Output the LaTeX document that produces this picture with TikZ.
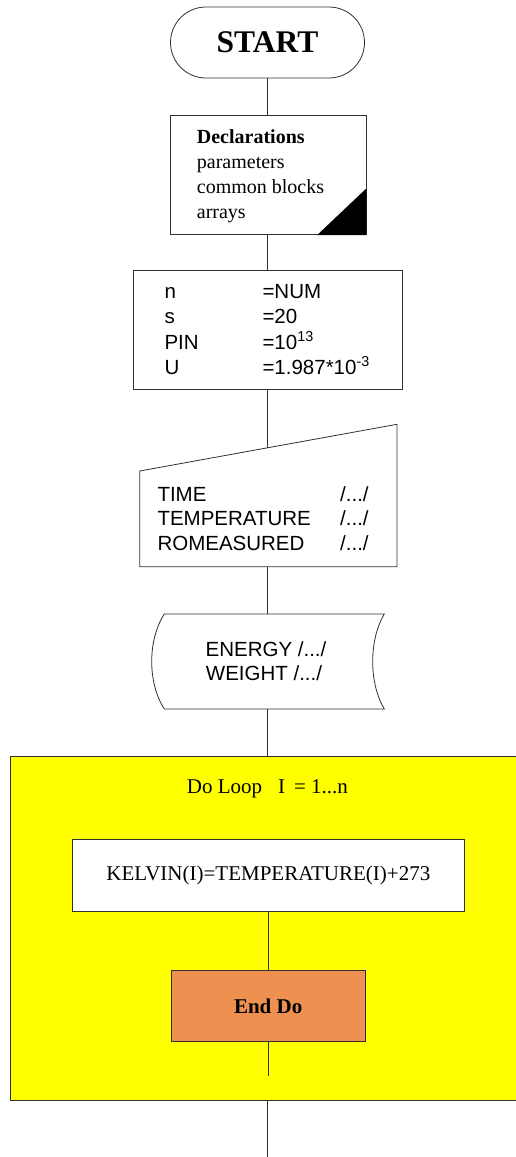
\documentclass[tikz,border=0pt]{standalone}
\usepackage{fontspec}
\setmainfont{Liberation Serif}
\newfontfamily\arialf{Liberation Sans}
\definecolor{loopyellow}{HTML}{FFFF00}
\definecolor{endorange}{HTML}{EE9150}
\definecolor{edgecol}{HTML}{303030}
\tikzset{
  shapeline/.style={draw=edgecol, line width=0.8pt},
  conn/.style={draw=edgecol, line width=0.8pt},
  serif/.style={font=\fontsize{20}{25}\selectfont},
  serifbig/.style={font=\fontsize{21}{25}\selectfont},
  sans/.style={font=\arialf\fontsize{20.5}{25}\selectfont},
  txt/.style={inner sep=0pt, anchor=base west},
  boxnode/.style={shapeline, inner sep=0pt, rectangle},
}
\begin{document}
\begin{tikzpicture}[x=1pt,y=-1pt]
\useasboundingbox (0,0) rectangle (515,1157);

% START terminal
\node[boxnode, rounded corners=35.5pt, minimum width=194pt, minimum height=71pt,
      font=\bfseries\fontsize{31.5}{36}\selectfont] (start) at (267.5,42.5) {START};

% Declarations
\node[boxnode, minimum width=195.3pt, minimum height=119pt] (decl) at (268.35,175.2) {};
\fill[black] (decl.south east) -- ([yshift=46.7pt]decl.south east) -- ([xshift=-49.3pt]decl.south east) -- cycle;
\node[txt, font=\bfseries\fontsize{20}{25}\selectfont] (d1) at (196.7,143.3) {Declarations};
\node[txt, serif] (d2) at (196.7,168.3) {parameters};
\node[txt, serif] (d3) at (196.7,193.3) {common blocks};
\node[txt, serif] (d4) at (196.7,218.3) {arrays};

% Parameters box
\node[boxnode, minimum width=269.3pt, minimum height=118.3pt] (param) at (267.65,329.85) {};
\node[txt, sans] (p1a) at (164.3,298.3) {n};
\node[txt, sans] (p1b) at (262.3,298.3) {=NUM};
\node[txt, sans] (p2a) at (164.3,323.3) {s};
\node[txt, sans] (p2b) at (262.3,323.3) {=20};
\node[txt, sans] (p3a) at (164.3,349) {PIN};
\node[txt, sans] (p3b) at (262.3,349) {=10\textsuperscript{13}};
\node[txt, sans] (p4a) at (164.3,374) {U};
\node[txt, sans] (p4b) at (262.3,374) {=1.987*10\textsuperscript{-3}};

% Manual input (trapezoid)
\coordinate (inTL) at (139.7,471);
\coordinate (inTR) at (397,424.3);
\coordinate (inBR) at (397,566.7);
\coordinate (inBL) at (139.7,566.7);
\coordinate (inTop) at (267.65,447.8);
\coordinate (inBot) at (267.65,566.7);
\draw[shapeline, line join=miter] (inTL) -- (inTR) -- (inBR) -- (inBL) -- cycle;
\node[txt, sans] (i1a) at (157.3,501) {TIME};
\node[txt, sans] (i1b) at (340,501) {/.../};
\node[txt, sans] (i2a) at (157.3,525.7) {TEMPERATURE};
\node[txt, sans] (i2b) at (340,525.7) {/.../};
\node[txt, sans] (i3a) at (157.3,550.3) {ROMEASURED};
\node[txt, sans] (i3b) at (340,550.3) {/.../};

% Stored data shape
\coordinate (stTop) at (267.65,614);
\coordinate (stBot) at (267.65,709);
\draw[shapeline] (164.3,614) -- (384.3,614)
   .. controls (368.8,640) and (368.8,683) .. (384.3,709)
   -- (164.3,709)
   .. controls (147.5,683) and (147.5,640) .. (164.3,614) -- cycle;
\node[inner sep=0pt, anchor=base, sans] (e1) at (266,656) {ENERGY /.../};
\node[inner sep=0pt, anchor=base, sans] (e2) at (264,680.7) {WEIGHT /.../};

% Loop region
\coordinate (loopTop) at (267.65,756.3);
\coordinate (loopBot) at (267.65,1100);
\draw[shapeline, fill=loopyellow] (10.7,756.3) rectangle (540,1100);
\node[txt, serifbig] (looplabel) at (186.7,793.3) {Do Loop\hspace{16pt}I\hspace{9pt}= 1...n};

\node[boxnode, fill=white, minimum width=391.3pt, minimum height=72pt, serifbig] (kelvin) at (268.35,875) {KELVIN(I)=TEMPERATURE(I)+273};
\node[boxnode, fill=endorange, minimum width=193.7pt, minimum height=71.7pt,
      font=\bfseries\fontsize{21}{25}\selectfont] (enddo) at (268.15,1005.85) {End Do};
\coordinate (loopEnd) at (268.15,1076);
\coordinate (exitEnd) at (267.65,1157);

% Connectors
\draw[conn] (start.south) -- (start.south |- decl.north);
\draw[conn] (decl.south -| param.north) -- (param.north);
\draw[conn] (param.south) -- (inTop);
\draw[conn] (inBot) -- (stTop);
\draw[conn] (stBot) -- (loopTop);
\draw[conn] (kelvin.south) -- (kelvin.south |- enddo.north);
\draw[conn] (enddo.south) -- (loopEnd);
\draw[conn] (loopBot) -- (exitEnd);
\end{tikzpicture}
\end{document}
